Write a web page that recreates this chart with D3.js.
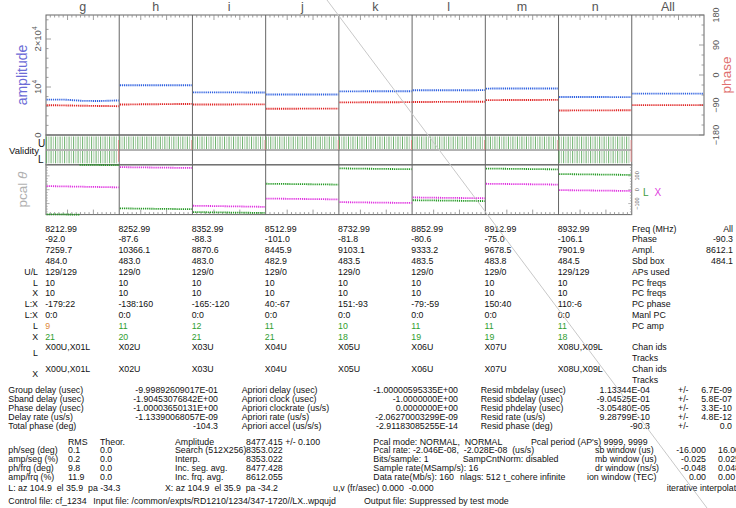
<!DOCTYPE html>
<html>
<head>
<meta charset="utf-8">
<script src="https://cdn.jsdelivr.net/npm/d3@7"></script>
<style>
  body { margin: 0; background: #fff; }
  svg text { font-family: "Liberation Sans", Arial, Helvetica, sans-serif; }
</style>
</head>
<body>
<svg id="chart" width="736" height="508"></svg>
<script>
// ---------- per-channel data ----------
const channels = ["g", "h", "i", "j", "k", "l", "m", "n"];
const freqs = ["8212.99", "8252.99", "8352.99", "8512.99", "8732.99", "8852.99", "8912.99", "8932.99"];
const phases = [-92.0, -87.6, -88.3, -101.0, -81.8, -80.6, -75.0, -106.1];
const ampls = [7259.7, 10366.1, 8870.6, 8445.9, 9103.1, 9333.2, 9678.5, 7901.9];
const sbdBox = [484.0, 483.0, 483.0, 482.9, 483.5, 483.5, 483.8, 484.5];
const apsUsedU = [129, 129, 129, 129, 129, 129, 129, 129];
const apsUsedL = [129, 0, 0, 0, 0, 0, 0, 129];
const pcFreqsL = [10, 10, 10, 10, 10, 10, 10, 10];
const pcFreqsX = [10, 10, 10, 10, 10, 10, 10, 10];
const pcPhaseL = [-179, -138, -165, 40, 151, -79, 150, 110];
const pcPhaseX = [22, 160, -120, -67, -93, -59, 40, -6];
const manlPcL = [0, 0, 0, 0, 0, 0, 0, 0];
const manlPcX = [0, 0, 0, 0, 0, 0, 0, 0];
const pcAmpL = [9, 11, 12, 11, 10, 11, 11, 11];
const pcAmpX = [21, 20, 21, 21, 18, 19, 19, 18];
const chanIdsL = ["X00U,X01L", "X02U", "X03U", "X04U", "X05U", "X06U", "X07U", "X08U,X09L"];
const chanIdsX = ["X00U,X01L", "X02U", "X03U", "X04U", "X05U", "X06U", "X07U", "X08U,X09L"];
const allPhase = -90.3, allAmpl = 8612.1, allSbd = 484.1;

// number of accumulation periods per channel, and the APs sampled for the traces
const nAP = 129;
const apSamples = [0, 32, 64, 96, 128];
// amplitude / phase departures from the channel value at each sampled AP (g..n, All)
const ampDev = [
  [120, 110, -150, -170, -60],
  [4, 2, 0, -2, -4],
  [2, 1, 0, -1, -2],
  [2, 1, 0, -1, -2],
  [-13, -5, 0, 5, 12],
  [-8, -3, 0, 3, 7],
  [-8, -3, 0, 3, 7],
  [3, 1, 0, -1, -3],
  [0, 0, 0, 0, 0]
];
const phaseDev = [
  [1.4, 0.8, -0.3, -0.9, -1.6],
  [-1.0, -0.4, 0.0, 0.4, 0.9],
  [-0.3, -0.1, 0.0, 0.1, 0.3],
  [-0.2, -0.1, 0.0, 0.1, 0.2],
  [-0.4, -0.2, 0.0, 0.2, 0.4],
  [-0.4, -0.2, 0.0, 0.2, 0.4],
  [-0.4, -0.2, 0.0, 0.2, 0.4],
  [-0.3, -0.1, 0.0, 0.1, 0.3],
  [0, 0, 0, 0, 0]
];
// pcal phase drift at the first and last AP, relative to the channel PC phase
const pcalDriftL = [[1.2, -3.6], [3, -3], [3, -3], [3, -3], [3, -3], [3, -3], [3, -3], [3, -3]];
const pcalDriftX = [[4, -5], [3, -3], [4, -4], [3, -3], [3, -3], [3, -3], [3, -3], [3, -3]];

// ---------- summary block ----------
const fitLabels1 = ["Group delay (usec)", "Sband delay (usec)", "Phase delay (usec)", "Delay rate (us/s)", "Total phase (deg)"];
const fitValues1 = ["-9.99892609017E-01", "-1.90453076842E+00", "-1.00003650131E+00", "-1.13390068057E-09", "-104.3"];
const fitLabels2 = ["Apriori delay (usec)", "Apriori clock (usec)", "Apriori clockrate (us/s)", "Apriori rate (us/s)", "Apriori accel (us/s/s)"];
const fitValues2 = ["-1.00000595335E+00", "-1.0000000E+00", "0.0000000E+00", "-2.06270003299E-09", "-2.91183085255E-14"];
const fitLabels3 = ["Resid mbdelay (usec)", "Resid sbdelay (usec)", "Resid phdelay (usec)", "Resid rate (us/s)", "Resid phase (deg)"];
const fitValues3 = ["1.13344E-04", "-9.04525E-01", "-3.05480E-05", "9.28799E-10", "-90.3"];
const fitErrors3 = ["6.7E-09", "5.8E-07", "3.3E-10", "4.8E-12", "0.0"];

const rmsLabels = ["ph/seg (deg)", "amp/seg (%)", "ph/frq (deg)", "amp/frq (%)"];
const rmsValues = ["0.1", "0.2", "9.8", "11.9"];
const theorValues = ["0.0", "0.0", "0.0", "0.0"];
const ampLabels = ["Search (512X256)", "Interp.", "Inc. seg. avg.", "Inc. frq. avg."];
const ampValues = ["8353.022", "8353.022", "8477.428", "8612.055"];
const fringeAmp = "8477.415 +/- 0.100";

const infoLeft = ["Pcal mode: NORMAL,  NORMAL", "Pcal rate: -2.046E-08,  -2.028E-08  (us/s)", "Bits/sample: 1", "Sample rate(MSamp/s): 16", "Data rate(Mb/s): 160"];
const windowLabels = ["sb window (us)", "mb window (us)", "dr window (ns/s)", "ion window (TEC)"];
const windowLo = ["-16.000", "-0.025", "-0.048", "0.00"];
const windowHi = ["16.000", "0.025", "0.048", "0.00"];

// ---------- drawing ----------
const svg = d3.select("#chart");
const axisCol = "#666";
const txtCol = "#111";

// horizontal layout: eight channels plus the "All" column
const plotL = 46, chanR = 631.75, plotR = 704;
const xSeg = d3.scaleLinear().domain([0, 8, 9]).range([plotL, chanR, plotR]);
const apScale = i => d3.scaleLinear().domain([0, nAP - 1]).range([xSeg(i) + 0.6, xSeg(i + 1) - 0.6]);

// vertical layout of the three panels
const ampTop = 15, ampBot = 135, valMid = 150, valBot = 164.8, pcBot = 214.6;
const yAmp = d3.scaleLinear().domain([0, 25000]).range([ampBot, ampTop]);
const yPhase = d3.scaleLinear().domain([-180, 180]).range([ampBot, ampTop]);
const yPcal = d3.scaleLinear().domain([-180, 180]).range([pcBot, valBot]);

const gPlot = svg.append("g");

// panel frames
gPlot.append("rect").attr("x", plotL).attr("y", ampTop).attr("width", plotR - plotL).attr("height", ampBot - ampTop)
  .attr("fill", "none").attr("stroke", axisCol).attr("stroke-width", 1);
gPlot.append("rect").attr("x", plotL).attr("y", ampBot).attr("width", chanR - plotL).attr("height", valBot - ampBot)
  .attr("fill", "none").attr("stroke", axisCol).attr("stroke-width", 1);
gPlot.append("line").attr("x1", plotL).attr("x2", chanR).attr("y1", valMid).attr("y2", valMid)
  .attr("stroke", axisCol);
gPlot.append("rect").attr("x", plotL).attr("y", valBot).attr("width", chanR - plotL).attr("height", pcBot - valBot)
  .attr("fill", "none").attr("stroke", axisCol).attr("stroke-width", 1);

// channel separators
d3.range(1, 9).forEach(i => {
  gPlot.append("line").attr("x1", xSeg(i)).attr("x2", xSeg(i)).attr("y1", ampTop).attr("y2", ampBot)
    .attr("stroke", axisCol);
  if (i < 8) {
    gPlot.append("line").attr("x1", xSeg(i)).attr("x2", xSeg(i)).attr("y1", ampBot).attr("y2", pcBot)
      .attr("stroke", axisCol);
  }
});

// time ticks along the top of the amplitude panel and the bottom of the pcal panel
const tickUnits = d3.range(1, 17);
d3.range(9).forEach(i => {
  const tx = d3.scaleLinear().domain([0, 17]).range([xSeg(i), xSeg(i + 1)]);
  tickUnits.forEach(t => {
    const len = (t === 5 || t === 11) ? 5 : 2.5;
    gPlot.append("line").attr("x1", tx(t)).attr("x2", tx(t)).attr("y1", ampTop).attr("y2", ampTop + len)
      .attr("stroke", "#888").attr("stroke-width", 0.8);
    if (i < 8) {
      gPlot.append("line").attr("x1", tx(t)).attr("x2", tx(t)).attr("y1", pcBot).attr("y2", pcBot - len)
        .attr("stroke", "#888").attr("stroke-width", 0.8);
    }
  });
});

// channel names above the top panel
const names = channels.concat(["All"]);
svg.selectAll("text.chan").data(names).enter().append("text")
  .attr("class", "chan")
  .attr("x", (d, i) => (xSeg(i) + xSeg(i + 1)) / 2)
  .attr("y", 11)
  .attr("text-anchor", "middle")
  .attr("font-size", 12.5)
  .attr("fill", "#555")
  .text(d => d);

// amplitude axis (left)
yAmp.ticks(12).forEach(v => {
  const major = v % 10000 === 0;
  gPlot.append("line").attr("x1", plotL).attr("x2", plotL + (major ? 5 : 2.5))
    .attr("y1", yAmp(v)).attr("y2", yAmp(v)).attr("stroke", "#888").attr("stroke-width", 0.8);
});
const ampTickLabels = [{v: 0, t: "0", e: ""}, {v: 10000, t: "10", e: "4"}, {v: 20000, t: "2\u00d710", e: "4"}];
ampTickLabels.forEach(d => {
  const t = svg.append("text")
    .attr("transform", `translate(40.5,${yAmp(d.v)}) rotate(-90)`)
    .attr("text-anchor", "middle").attr("font-size", 9.5).attr("fill", "#555");
  t.append("tspan").text(d.t);
  if (d.e) t.append("tspan").attr("dy", -3.5).attr("font-size", 6.5).text(d.e);
});
svg.append("text")
  .attr("transform", `translate(27,${(ampTop + ampBot) / 2}) rotate(-90)`)
  .attr("text-anchor", "middle").attr("font-size", 14).attr("fill", "#6b6bd6")
  .text("amplitude");

// phase axis (right)
d3.range(-180, 181, 30).forEach(v => {
  const major = v % 90 === 0;
  gPlot.append("line").attr("x1", plotR).attr("x2", plotR - (major ? 5 : 2.5))
    .attr("y1", yPhase(v)).attr("y2", yPhase(v)).attr("stroke", "#888").attr("stroke-width", 0.8);
});
[180, 90, 0, -90, -180].forEach(v => {
  svg.append("text")
    .attr("transform", `translate(718.5,${yPhase(v)}) rotate(-90)`)
    .attr("text-anchor", "middle").attr("font-size", 9).attr("fill", "#555")
    .text(v < 0 ? "\u2212" + Math.abs(v) : String(v));
});
svg.append("text")
  .attr("transform", `translate(731,${(ampTop + ampBot) / 2}) rotate(-90)`)
  .attr("text-anchor", "middle").attr("font-size", 13.5).attr("fill", "#e07070")
  .text("phase");

// amplitude and phase traces
const ampVals = ampls.concat([allAmpl]);
const phaseVals = phases.concat([allPhase]);
names.forEach((c, i) => {
  const sx = apScale(i);
  const ampLine = d3.line().x(d => sx(d.ap)).y(d => yAmp(d.v));
  const phLine = d3.line().x(d => sx(d.ap)).y(d => yPhase(d.v));
  const ampPts = apSamples.map((ap, k) => ({ap, v: ampVals[i] + ampDev[i][k]}));
  const phPts = apSamples.map((ap, k) => ({ap, v: phaseVals[i] + phaseDev[i][k]}));
  gPlot.append("path").attr("d", phLine(phPts)).attr("fill", "none")
    .attr("stroke", "#e02424").attr("stroke-width", 1.9).attr("stroke-dasharray", "1.2 0.9");
  gPlot.append("path").attr("d", ampLine(ampPts)).attr("fill", "none")
    .attr("stroke", "#2c5fe0").attr("stroke-width", 1.9).attr("stroke-dasharray", "1.2 0.9");
});

// validity flags: one stroke every 4 APs, last AP flagged
const apStride = 4;
channels.forEach((c, i) => {
  const sx = apScale(i);
  [{n: apsUsedU[i], y0: ampBot + 1.5, y1: valMid - 1}, {n: apsUsedL[i], y0: valMid + 1, y1: valBot - 1.5}].forEach(row => {
    if (!row.n) return;
    d3.range(0, row.n - 1, apStride).forEach((ap, k) => {
      gPlot.append("line").attr("x1", sx(ap)).attr("x2", sx(ap)).attr("y1", row.y0).attr("y2", row.y1)
        .attr("stroke", k % 2 ? "#a5c2a5" : "#5aa85a").attr("stroke-width", 0.9);
    });
  });
  const yEnd = apsUsedL[i] ? valBot - 3 : valMid;
  gPlot.append("line").attr("x1", sx(nAP - 1)).attr("x2", sx(nAP - 1)).attr("y1", ampBot + 5).attr("y2", yEnd)
    .attr("stroke", "#e08a8a").attr("stroke-width", 1);
});
svg.append("text").attr("x", 9).attr("y", 153.5).attr("font-size", 9.5).attr("fill", txtCol).text("Validity");
svg.append("text").attr("x", 38).attr("y", 146.5).attr("font-size", 10).attr("fill", txtCol).text("U");
svg.append("text").attr("x", 38).attr("y", 163).attr("font-size", 10).attr("fill", txtCol).text("L");

// pcal phase axis
d3.range(-180, 181, 20).forEach(v => {
  const major = v % 100 === 0;
  [plotL, chanR].forEach((xe, s) => {
    gPlot.append("line").attr("x1", xe).attr("x2", xe + (s ? -1 : 1) * (major ? 3.5 : 1.8))
      .attr("y1", yPcal(v)).attr("y2", yPcal(v)).attr("stroke", "#999").attr("stroke-width", 0.7);
  });
});
[100, 0, -100].forEach(v => {
  svg.append("text")
    .attr("transform", `translate(639,${yPcal(v)}) rotate(-90)`)
    .attr("text-anchor", "middle").attr("font-size", 5.5).attr("fill", "#555")
    .text(v < 0 ? "\u2212" + Math.abs(v) : String(v));
});
svg.append("text").attr("x", 643).attr("y", 195.5).attr("font-size", 10).attr("fill", "#3c9c3c").text("L");
svg.append("text").attr("x", 654.5).attr("y", 195.5).attr("font-size", 10).attr("fill", "#e040e0").text("X");
const pcalTitle = svg.append("text")
  .attr("transform", `translate(27,${(valBot + pcBot) / 2}) rotate(-90)`)
  .attr("text-anchor", "middle").attr("font-size", 13.5).attr("fill", "#b0b0b0");
pcalTitle.append("tspan").text("pcal  ");
pcalTitle.append("tspan").attr("font-style", "italic").text("\u03b8");

// pcal phase traces, wrapped into [-180, 180)
function pcalPieces(s, e) {
  const band = v => Math.floor((v + 180) / 360);
  if (band(s) === band(e)) {
    const off = -360 * band(s);
    return [[{f: 0, v: s + off}, {f: 1, v: e + off}]];
  }
  const b = 360 * Math.max(band(s), band(e)) - 180;
  const f = (s - b) / (s - e);
  const offS = -360 * band(s), offE = -360 * band(e);
  return [[{f: 0, v: s + offS}, {f, v: b + offS}], [{f, v: b + offE}, {f: 1, v: e + offE}]];
}
channels.forEach((c, i) => {
  const sx = apScale(i);
  const line = d3.line().x(d => sx(d.f * (nAP - 1))).y(d => yPcal(d.v));
  [{base: pcPhaseX[i], drift: pcalDriftX[i], col: "#e030e0"},
   {base: pcPhaseL[i], drift: pcalDriftL[i], col: "#249a24"}].forEach(tr => {
    pcalPieces(tr.base + tr.drift[0], tr.base + tr.drift[1]).forEach(piece => {
      gPlot.append("path").attr("d", line(piece)).attr("fill", "none")
        .attr("stroke", tr.col).attr("stroke-width", 1.8).attr("stroke-dasharray", "1.2 0.9");
    });
  });
});

// ---------- channel table ----------
const fs = 8.8;
const rowY = k => 228.5 + 10.8 * k + 3.1;
const colX = i => xSeg(i) - 0.8;
const rightX = 632, allX = 733;
const fmt1 = v => v.toFixed(1);
const tableRows = [
  {vals: freqs, right: "Freq (MHz)", all: "All"},
  {vals: phases.map(fmt1), right: "Phase", all: fmt1(allPhase)},
  {vals: ampls.map(fmt1), right: "Ampl.", all: fmt1(allAmpl)},
  {vals: sbdBox.map(fmt1), right: "Sbd box", all: fmt1(allSbd)},
  {left: "U/L", vals: apsUsedU.map((u, i) => u + "/" + apsUsedL[i]), right: "APs used"},
  {left: "L", vals: pcFreqsL.map(String), right: "PC freqs"},
  {left: "X", vals: pcFreqsX.map(String), right: "PC freqs"},
  {left: "L:X", vals: pcPhaseL.map((l, i) => l + ":" + pcPhaseX[i]), right: "PC phase"},
  {left: "L:X", vals: manlPcL.map((l, i) => l + ":" + manlPcX[i]), right: "Manl PC"},
  {left: "L", vals: pcAmpL.map(String), right: "PC amp", colour: v => +v < 10 ? "#e0883a" : "#2f9e2f"},
  {left: "X", vals: pcAmpX.map(String), colour: v => +v < 10 ? "#e0883a" : "#2f9e2f"},
  {vals: chanIdsL, right: "Chan ids", sideLabel: "L"},
  {vals: [], right: "Tracks"},
  {vals: chanIdsX, right: "Chan ids", sideLabel: "X"},
  {vals: [], right: "Tracks"}
];
const gTab = svg.append("g").attr("font-size", fs).attr("fill", txtCol);
tableRows.forEach((r, k) => {
  const y = rowY(k);
  if (r.left) gTab.append("text").attr("x", 38).attr("y", y).attr("text-anchor", "end").text(r.left);
  if (r.sideLabel) gTab.append("text").attr("x", 38).attr("y", y + 5.4).attr("text-anchor", "end").text(r.sideLabel);
  r.vals.forEach((v, i) => {
    gTab.append("text").attr("x", colX(i)).attr("y", y)
      .attr("fill", r.colour ? r.colour(v) : txtCol).text(v);
  });
  if (r.right) gTab.append("text").attr("x", rightX).attr("y", y).text(r.right);
  if (r.all) gTab.append("text").attr("x", allX).attr("y", y).attr("text-anchor", "end").text(r.all);
});

// ---------- fit summary ----------
const gSum = svg.append("g").attr("font-size", fs).attr("fill", txtCol);
const fitY = k => 389.5 + 9 * k + 3.1;
fitLabels1.forEach((t, k) => {
  gSum.append("text").attr("x", 8.3).attr("y", fitY(k)).text(t);
  gSum.append("text").attr("x", 218).attr("y", fitY(k)).attr("text-anchor", "end").text(fitValues1[k]);
  gSum.append("text").attr("x", 241.7).attr("y", fitY(k)).text(fitLabels2[k]);
  gSum.append("text").attr("x", 458).attr("y", fitY(k)).attr("text-anchor", "end").text(fitValues2[k]);
  gSum.append("text").attr("x", 480.7).attr("y", fitY(k)).text(fitLabels3[k]);
  gSum.append("text").attr("x", 650).attr("y", fitY(k)).attr("text-anchor", "end").text(fitValues3[k]);
  gSum.append("text").attr("x", 678).attr("y", fitY(k)).text("+/-");
  gSum.append("text").attr("x", 732).attr("y", fitY(k)).attr("text-anchor", "end").text(fitErrors3[k]);
});

const statY = k => 441.5 + 8.8 * k + 3.1;
gSum.append("text").attr("x", 68).attr("y", statY(0)).text("RMS");
gSum.append("text").attr("x", 100).attr("y", statY(0)).text("Theor.");
gSum.append("text").attr("x", 175).attr("y", statY(0)).text("Amplitude");
gSum.append("text").attr("x", 246).attr("y", statY(0)).text(fringeAmp);
rmsLabels.forEach((t, k) => {
  const y = statY(k + 1);
  gSum.append("text").attr("x", 8.3).attr("y", y).text(t);
  gSum.append("text").attr("x", 68).attr("y", y).text(rmsValues[k]);
  gSum.append("text").attr("x", 100).attr("y", y).text(theorValues[k]);
  gSum.append("text").attr("x", 175).attr("y", y).text(ampLabels[k]);
  gSum.append("text").attr("x", 246).attr("y", y).text(ampValues[k]);
});
infoLeft.forEach((t, k) => gSum.append("text").attr("x", 373.3).attr("y", statY(k))
  .attr("xml:space", "preserve").text(t));
gSum.append("text").attr("x", 531).attr("y", statY(0)).text("Pcal period (AP's) 9999, 9999");
gSum.append("text").attr("x", 462.7).attr("y", statY(2)).text("SampCntNorm: disabled");
gSum.append("text").attr("x", 460).attr("y", statY(4)).text("nlags: 512");
gSum.append("text").attr("x", 503.3).attr("y", statY(4)).text("t_cohere infinite");
windowLabels.forEach((t, k) => {
  const y = statY(k + 1);
  gSum.append("text").attr("x", k === 3 ? 587 : 595).attr("y", y).text(t);
  gSum.append("text").attr("x", 706).attr("y", y).attr("text-anchor", "end").text(windowLo[k]);
  gSum.append("text").attr("x", 718).attr("y", y).text(windowHi[k]);
});

const geoY = 488 + 3.1, ctlY = 501 + 3.1;
gSum.append("text").attr("x", 8.3).attr("y", geoY).attr("xml:space", "preserve").text("L: az 104.9  el 35.9  pa -34.3");
gSum.append("text").attr("x", 165).attr("y", geoY).attr("xml:space", "preserve").text("X: az 104.9  el 35.9  pa -34.2");
gSum.append("text").attr("x", 333).attr("y", geoY).attr("xml:space", "preserve").text("u,v (fr/asec) 0.000  -0.000");
gSum.append("text").attr("x", 666.7).attr("y", geoY).text("iterative interpolation");
gSum.append("text").attr("x", 8.3).attr("y", ctlY).text("Control file: cf_1234");
gSum.append("text").attr("x", 93.3).attr("y", ctlY).text("Input file: /common/expts/RD1210/1234/347-1720//LX..wpqujd");
gSum.append("text").attr("x", 364).attr("y", ctlY).text("Output file: Suppressed by test mode");

// light diagonal rule across the sheet
svg.append("line").attr("x1", 327).attr("y1", 0).attr("x2", 707).attr("y2", 508)
  .attr("stroke", "#c8c8c8").attr("stroke-width", 1);
</script>
</body>
</html>
